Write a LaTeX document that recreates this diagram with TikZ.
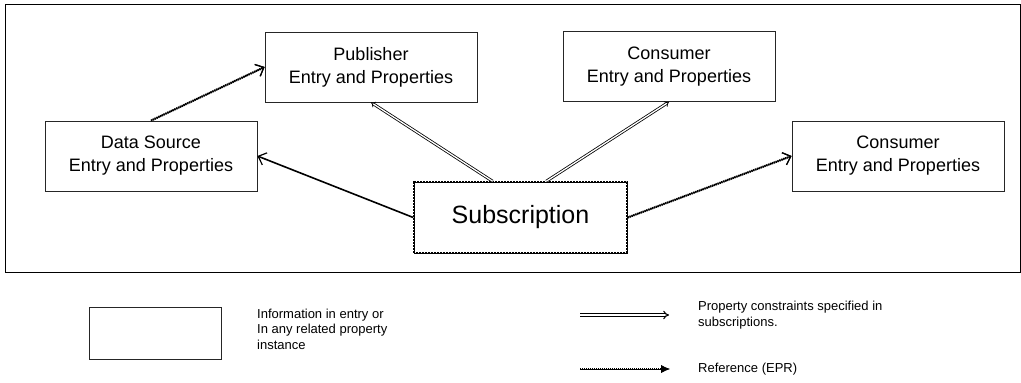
\documentclass[tikz,border=0pt]{standalone}
\usepackage{fontspec}
\setmainfont{Liberation Sans}
\usetikzlibrary{arrows.meta,calc}
\tikzset{
  entry/.style={draw=black!85, line width=0.8pt, minimum width=212pt, minimum height=70pt,
    align=center, inner sep=0pt, font=\fontsize{18}{23}\selectfont},
  subbox/.style={draw, line width=1.5pt, dash pattern=on 1pt off 0.5pt,
    preaction={draw, line width=0.6pt, solid}, minimum width=213pt, minimum height=71pt,
    inner sep=0pt, font=\fontsize{25}{30}\selectfont},
  refline/.style={line width=2.2pt, dash pattern=on 1.2pt off 0.8pt,
    preaction={draw, line width=0.8pt, solid, -{Straight Barb[length=7pt,width=13pt,line width=1.2pt]}},
    -{Straight Barb[length=7pt,width=13pt,line width=1.2pt]}},
  reflegend/.style={line width=2.2pt, dash pattern=on 1.2pt off 0.8pt,
    preaction={draw, line width=0.8pt, solid, -{Latex[length=9pt,width=8pt]}},
    -{Latex[length=9pt,width=8pt]}},
  propline/.style={draw, double=white, double distance=1.3pt, line width=0.8pt, -{Implies[length=6pt]}},
  proplegend/.style={draw, double=white, double distance=1.8pt, line width=1pt, -{Implies[length=7pt]}},
  plainarrow/.style={line width=1.6pt, -{Straight Barb[length=7pt,width=13pt,line width=1.2pt]}},
  legtext/.style={align=left, inner sep=0pt, anchor=west}
}
\begin{document}
\begin{tikzpicture}[x=1pt,y=-1pt]
\useasboundingbox (0,0) rectangle (1021,383);
\draw[line width=0.9pt] (5,4) rectangle (1020,272);

\node[entry] (pub) at (371,67) {Publisher\\Entry and Properties};
\node[entry] (ct) at (669,66.5) {Consumer\\Entry and Properties};
\node[entry] (ds) at (151,156) {Data Source\\Entry and Properties};
\node[entry] (cr) at (898,156) {Consumer\\Entry and Properties};
\node[subbox] (sub) at (520.5,217.5) {Subscription};

\coordinate (s1) at ($(sub.north west)!0.37!(sub.north east)$);
\coordinate (s2) at ($(sub.north west)!0.62!(sub.north east)$);

\draw[refline] (ds.north) -- (pub.west);
\draw[refline] (sub.east) -- (cr.west);
\draw[plainarrow] (sub.west) -- (ds.east);
\draw[propline] (s1) -- (pub.south);
\draw[propline] (s2) -- (ct.south);

% legend
\node[draw=black!85, line width=0.8pt, minimum width=132pt, minimum height=52pt, inner sep=0pt] (lbox) at (155,333) {};
\node[legtext, font=\fontsize{13}{15.5}\selectfont] (ltext) at (257,329)
  {Information in entry or\\In any related property\\instance};

\coordinate (legpropstart) at (580,315.03);
\coordinate (legpropend) at (669,315);
\draw[proplegend] (legpropstart) -- (legpropend);
\node[legtext, font=\fontsize{13}{16}\selectfont] (ptext) at (698,315)
  {Property constraints specified in\\subscriptions.};

\coordinate (legrefstart) at (580,369);
\coordinate (legrefend) at (670,369);
\draw[reflegend] (legrefstart) -- (legrefend);
\node[legtext, font=\fontsize{13}{16}\selectfont] (rtext) at (698,369) {Reference (EPR)};
\end{tikzpicture}
\end{document}
